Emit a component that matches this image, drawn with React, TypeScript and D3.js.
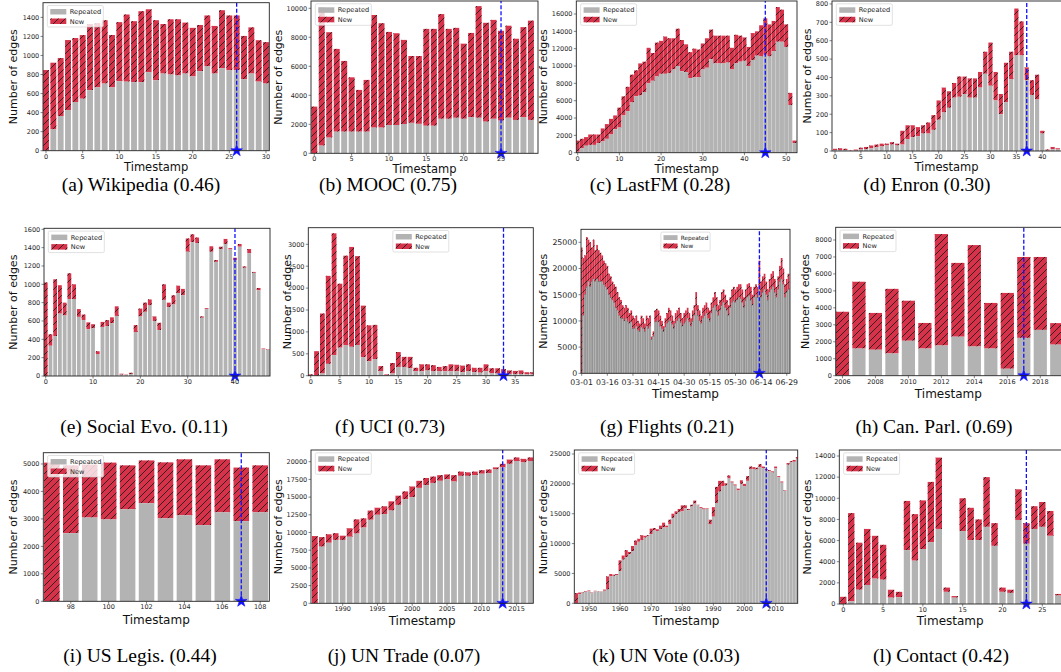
import React from "react";
import * as d3 from "d3";

// ---------------- data ----------------
const wikiTotal = [847, 924, 973, 1162, 1183, 1214, 1330, 1340, 1370, 1215, 1350, 1430, 1360, 1465, 1485, 1370, 1330, 1380, 1380, 1345, 1290, 1320, 1420, 1310, 1475, 1420, 1420, 1205, 1295, 1160, 1140];
const wikiRepeated = [0, 224, 364, 427, 511, 546, 635, 665, 705, 665, 730, 725, 720, 720, 825, 740, 810, 800, 790, 810, 780, 835, 885, 810, 865, 845, 845, 750, 810, 725, 705];

const moocTotal = [3220, 10070, 8350, 7200, 6370, 5240, 4370, 5060, 9540, 8970, 8370, 8280, 7820, 6710, 6710, 8580, 8580, 9600, 8580, 8650, 7560, 8300, 10150, 9000, 9200, 8450, 8800, 7900, 8700, 9150];
const moocRepeated = [0, 530, 1080, 1490, 1490, 1490, 1490, 1490, 1770, 1770, 1950, 1950, 2020, 2100, 2030, 1900, 1900, 2380, 2380, 2450, 2380, 2500, 2450, 2180, 2380, 2250, 2450, 2300, 2500, 2300];

const lastfmTotal = [1400, 1600, 1800, 2100, 2100, 2100, 2800, 3300, 3900, 4300, 5200, 6500, 7600, 9000, 9500, 10300, 10500, 12100, 11500, 12700, 12900, 13400, 13200, 13200, 14300, 13000, 12500, 11600, 12000, 11900, 12600, 13200, 14200, 13500, 13500, 13500, 13500, 12100, 13600, 13500, 13300, 12200, 13800, 14000, 14700, 15500, 14800, 15200, 16800, 16500, 14800, 6900, 1400];
const lastfmRepeated = [100, 500, 800, 900, 900, 1100, 1300, 1600, 2100, 2700, 2900, 4300, 4800, 5800, 6500, 6600, 7000, 8000, 8300, 8800, 9100, 9100, 9200, 9600, 10000, 9400, 9300, 8600, 8700, 8700, 9600, 9800, 10800, 10300, 10300, 10300, 10400, 9600, 10300, 10500, 10600, 10000, 10700, 11200, 11100, 11300, 11100, 11700, 12800, 12800, 12200, 5500, 1100];

const enronTotal = [12, 15, 12, 2, 8, 18, 22, 30, 35, 40, 40, 48, 40, 110, 140, 140, 130, 140, 155, 195, 275, 345, 325, 370, 405, 405, 395, 395, 430, 540, 590, 430, 310, 480, 540, 775, 705, 455, 385, 415, 110, 8, 22, 15];
const enronRepeated = [5, 5, 5, 0, 2, 8, 10, 15, 20, 25, 30, 35, 30, 35, 65, 75, 80, 95, 95, 115, 170, 210, 235, 290, 295, 310, 290, 290, 345, 420, 355, 275, 200, 265, 390, 520, 520, 385, 305, 280, 95, 2, 10, 8];

const socialTotal = [1020, 455, 1055, 990, 800, 1120, 1000, 730, 670, 585, 565, 270, 590, 610, 640, 760, 25, 15, 35, 555, 735, 800, 835, 650, 580, 1000, 800, 880, 985, 950, 1500, 1545, 1510, 650, 740, 1415, 1265, 1410, 1495, 1395, 1290, 1440, 1195, 1385, 1135, 960, 300, 290];
const socialRepeated = [0, 330, 435, 680, 660, 840, 840, 645, 610, 510, 520, 240, 535, 545, 575, 655, 15, 10, 20, 480, 650, 700, 770, 600, 500, 830, 750, 780, 905, 880, 1355, 1460, 1450, 635, 730, 1355, 1245, 1385, 1440, 1380, 1265, 1410, 1180, 1340, 1125, 935, 290, 285];

const uciTotal = [30, 560, 1420, 2280, 3250, 2100, 2740, 2940, 2730, 1600, 1150, 1160, 220, 30, 290, 540, 430, 430, 180, 260, 260, 240, 200, 220, 260, 250, 230, 260, 180, 180, 260, 170, 170, 150, 120, 110, 120, 80, 80];
const uciRepeated = [0, 0, 50, 270, 470, 640, 700, 660, 700, 420, 330, 380, 100, 10, 50, 200, 200, 170, 100, 100, 120, 100, 100, 100, 100, 100, 80, 100, 80, 70, 100, 60, 50, 60, 40, 40, 40, 30, 30];

const flightsTotal = [
  24000, 22000, 22500, 26000, 25500, 25000, 24000, 25500, 23500, 24500, 23500, 23000,
  22500, 21500, 21000, 20500, 19000, 18500, 17500, 17000, 16500, 15500, 14500, 14000, 13000, 12500, 13000, 12500, 11500, 12000, 11000,
  10500, 11000, 10000, 9500, 11000, 10500, 9500, 11000, 10500, 11000,
  7000, 8000, 12000, 12300, 12000, 11000, 10000, 9000, 10500,
  11500, 12500, 12000, 11000, 10000, 11500, 12000, 12500, 11500, 10500, 11500,
  12000, 12500, 11500, 10500, 12000, 13000, 15500, 13000, 12000, 11000, 12500, 13000, 13500, 12500, 12000,
  13500, 14500, 15500, 14500, 13000, 14000, 15500, 16000, 15000, 14000, 13000, 14500, 16000, 16500, 16000,
  16500, 17000, 17000, 16000, 14500, 16000, 17000, 17200, 16500, 15000, 16500, 17000, 16500, 21500,
  17500, 18500, 19000, 17500, 16000, 18000, 19000, 19500, 18000, 16500, 18500, 20500, 22000, 20000, 17000, 18000, 19000,
];
const flightsRepeated = [
  0, 11000, 15000, 16500, 17500, 16500, 17500, 18000, 17500, 18000, 17500, 17500,
  17500, 17000, 16500, 16000, 15000, 14500, 14000, 13500, 12500, 12000, 11000, 10500, 10500, 10000, 10500, 10000, 9500, 9800, 8500,
  8500, 9000, 8200, 8000, 8800, 8500, 8000, 9000, 8500, 9000,
  6500, 7000, 9800, 10000, 9800, 9000, 8500, 8000, 8800,
  9500, 10000, 10000, 9300, 8500, 9500, 10000, 10500, 9800, 9000, 9500,
  10000, 10500, 9800, 9000, 10000, 11000, 12000, 11000, 10000, 9500, 10500, 11000, 11500, 10500, 10000,
  11500, 12500, 13000, 12000, 11000, 12000, 13000, 13500, 12500, 12000, 11000, 12500, 13500, 14000, 13500,
  14000, 14500, 14200, 13500, 12500, 14000, 14500, 14800, 14000, 13000, 14500, 15000, 14500, 16500,
  14500, 15500, 16000, 15000, 14000, 15500, 16000, 16500, 15500, 14500, 16000, 17500, 18000, 17000, 14500, 15500, 16000,
];
const flightsDateLabels = ["03-01", "03-16", "03-31", "04-15", "04-30", "05-15", "05-30", "06-14", "06-29"];

const canParlTotal = [3770, 5540, 3700, 5120, 4420, 3110, 8350, 6650, 7700, 4290, 4880, 7000, 7000, 3100];
const canParlRepeated = [0, 1600, 1530, 1310, 2060, 1600, 1780, 2300, 1720, 1600, 410, 2230, 2700, 1830];

const usLegisTotal = [5050, 4950, 4980, 5050, 4950, 5130, 5060, 5170, 4950, 5170, 4870, 4950];
const usLegisRepeated = [0, 2480, 3050, 2980, 3350, 3570, 3020, 3130, 2770, 3240, 2920, 3240];

const unTradeTotal = [9500, 9350, 9750, 9900, 9550, 10600, 11850, 12000, 13100, 13500, 13700, 14400, 15200, 15800, 16500, 17300, 17700, 17900, 18100, 18200, 18100, 18600, 18500, 18600, 18800, 18900, 19200, 19700, 20300, 20600, 20400, 20600];
const unTradeRepeated = [0, 8000, 8550, 8950, 8950, 9400, 9850, 10700, 11800, 12500, 12600, 13100, 13900, 14700, 15000, 16300, 16700, 17000, 17300, 17500, 17200, 18000, 18000, 18100, 18300, 18400, 18900, 19200, 19700, 20100, 19900, 20100];

const unVoteTotal = [1700, 1800, 1900, 2000, 2150, 1800, 2100, 2000, 2000, 2300, 4500, 4900, 4800, 4900, 7200, 8000, 8900, 8600, 9600, 10500, 10800, 11400, 11300, 11400, 12500, 12600, 12400, 13000, 13500, 13000, 14000, 15000, 15400, 15800, 16400, 16400, 15800, 16500, 17200, 16500, 16100, 15900, 15900, 14000, 16100, 19500, 20500, 20500, 20100, 21400, 20400, 19900, 19200, 20600, 20000, 21300, 22900, 22800, 22700, 23300, 22900, 22500, 22300, 22100, 22900, 21300, 20400, 18900, 23500, 23800, 24000, 24500];
const unVoteRepeated = [0, 1500, 1800, 1900, 2000, 1700, 2000, 1950, 1950, 2100, 2300, 4500, 4600, 4700, 5400, 7300, 7700, 8200, 8700, 9700, 10300, 10600, 11000, 11200, 11600, 12200, 12100, 12400, 12700, 12700, 13200, 14300, 14900, 15300, 15400, 15900, 15600, 16200, 16700, 16400, 15900, 15700, 15800, 13200, 14500, 16800, 18700, 19600, 19700, 20900, 20200, 19700, 18900, 20000, 19600, 20500, 22500, 22500, 22400, 22800, 22600, 22300, 22100, 21900, 22600, 21100, 20200, 18800, 23200, 23600, 23700, 24200];

const contactTotal = [680, 8600, 5800, 7100, 6450, 5600, 1350, 1150, 9750, 8500, 9800, 11550, 13850, 1550, 750, 10000, 9100, 8000, 12000, 7650, 1550, 1350, 10850, 7650, 9250, 9650, 8800, 950];
const contactRepeated = [0, 250, 1350, 1800, 2400, 2300, 600, 650, 5100, 4100, 5200, 5850, 7100, 1150, 600, 6900, 6050, 6050, 7300, 5500, 1150, 1050, 7950, 5700, 7100, 7300, 6450, 800];

// tick values
const wikiXTicks = [0, 5, 10, 15, 20, 25, 30];
const wikiYTicks = [0, 200, 400, 600, 800, 1000, 1200, 1400];
const moocXTicks = [0, 5, 10, 15, 20, 25];
const moocYTicks = [0, 2000, 4000, 6000, 8000, 10000];
const lastfmXTicks = [0, 10, 20, 30, 40, 50];
const lastfmYTicks = [0, 2000, 4000, 6000, 8000, 10000, 12000, 14000, 16000];
const enronXTicks = [0, 5, 10, 15, 20, 25, 30, 35, 40];
const enronYTicks = [0, 100, 200, 300, 400, 500, 600, 700, 800];
const socialXTicks = [0, 10, 20, 30, 40];
const socialYTicks = [0, 200, 400, 600, 800, 1000, 1200, 1400, 1600];
const uciXTicks = [0, 5, 10, 15, 20, 25, 30, 35];
const uciYTicks = [0, 500, 1000, 1500, 2000, 2500, 3000];
const flightsXTicks = [0, 15, 30, 45, 60, 75, 90, 105, 120];
const flightsYTicks = [0, 5000, 10000, 15000, 20000, 25000];
const canParlXTicks = [2006, 2008, 2010, 2012, 2014, 2016, 2018];
const canParlYTicks = [0, 1000, 2000, 3000, 4000, 5000, 6000, 7000, 8000];
const usLegisXTicks = [98, 100, 102, 104, 106, 108];
const usLegisYTicks = [0, 1000, 2000, 3000, 4000, 5000];
const unTradeXTicks = [1990, 1995, 2000, 2005, 2010, 2015];
const unTradeYTicks = [0, 2500, 5000, 7500, 10000, 12500, 15000, 17500, 20000];
const unVoteXTicks = [1950, 1960, 1970, 1980, 1990, 2000, 2010];
const unVoteYTicks = [0, 5000, 10000, 15000, 20000, 25000];
const contactXTicks = [0, 5, 10, 15, 20, 25];
const contactYTicks = [0, 2000, 4000, 6000, 8000, 10000, 12000, 14000];

// ---------------- styles / layout ----------------
const RED = "#d6334a";
const GREY = "#b3b3b3";
const BLUE = "#1010ff";
const SANS = "'DejaVu Sans', sans-serif";
const SERIF = "'Liberation Serif', 'Times New Roman', serif";

interface Panel {
  id: string;
  caption: string;
  capX: number;
  capY: number;
  left: number;
  right: number;
  top: number;
  bottom: number;
  xDomain: [number, number];
  yMax: number;
  xStart: number;
  total: number[];
  rep: number[];
  xTicks: number[];
  xTickLabels?: string[];
  yTicks: number[];
  split: number;
  barW: number;
  edge?: boolean;
  legendCenter?: boolean;
  legendScale?: number;
  ylabX: number;
  xlabY: number | null;
  xlabFs?: number;
  tickFs?: number;
  xTickBase?: number;
}

const panels: Panel[] = [
  { id: "a", caption: "(a) Wikipedia (0.46)", capX: 141, capY: 190.5, left: 43, right: 269.3, top: 2.7, bottom: 150.7, xDomain: [-0.41, 30.45], yMax: 1554, xStart: 0, total: wikiTotal, rep: wikiRepeated, xTicks: wikiXTicks, yTicks: wikiYTicks, split: 26, barW: 0.8, ylabX: 13, xlabY: 171.2, xlabFs: 11.5 },
  { id: "b", caption: "(b) MOOC (0.75)", capX: 388, capY: 190.5, left: 311, right: 538, top: 1, bottom: 153.3, xDomain: [-0.44, 29.95], yMax: 10503, xStart: 0, total: moocTotal, rep: moocRepeated, xTicks: moocXTicks, yTicks: moocYTicks, split: 25, barW: 0.8, ylabX: 278, xlabY: 172.9, xlabFs: 11.5 },
  { id: "c", caption: "(c) LastFM (0.28)", capX: 660, capY: 190.5, left: 576.3, right: 797, top: 1, bottom: 152.7, xDomain: [-0.33, 52.6], yMax: 17500, xStart: 0, total: lastfmTotal, rep: lastfmRepeated, xTicks: lastfmXTicks, yTicks: lastfmYTicks, split: 45, barW: 0.95, ylabX: 543, xlabY: 172.5, xlabFs: 11.5 },
  { id: "d", caption: "(d) Enron (0.30)", capX: 927, capY: 190.5, left: 832, right: 1063, top: 1, bottom: 151, xDomain: [-0.58, 44], yMax: 816, xStart: 0, total: enronTotal, rep: enronRepeated, xTicks: enronXTicks, yTicks: enronYTicks, split: 37, barW: 0.8, ylabX: 807, xlabY: 171.4, xlabFs: 11.5 },
  { id: "e", caption: "(e) Social Evo. (0.11)", capX: 144, capY: 433, left: 44, right: 270, top: 228.3, bottom: 376, xDomain: [-0.36, 47.4], yMax: 1611, xStart: 0, total: socialTotal, rep: socialRepeated, xTicks: socialXTicks, yTicks: socialYTicks, split: 40, barW: 0.8, ylabX: 13, xlabY: null },
  { id: "f", caption: "(f) UCI (0.73)", capX: 390, capY: 433, left: 308.3, right: 533.3, top: 227.7, bottom: 375.7, xDomain: [-0.41, 38.1], yMax: 3379, xStart: 0, total: uciTotal, rep: uciRepeated, xTicks: uciXTicks, yTicks: uciYTicks, split: 33, barW: 0.82, legendCenter: true, ylabX: 287, xlabY: null },
  { id: "g", caption: "(g) Flights (0.21)", capX: 667, capY: 433, left: 581, right: 790, top: 229.3, bottom: 373.3, xDomain: [-0.4, 121.9], yMax: 27480, xStart: 0, total: flightsTotal, rep: flightsRepeated, xTicks: flightsXTicks, xTickLabels: flightsDateLabels, yTicks: flightsYTicks, split: 104, barW: 1, edge: true, legendCenter: true, legendScale: 0.88, ylabX: 543, xlabY: 398, tickFs: 7.8, xTickBase: 11.3 },
  { id: "h", caption: "(h) Can. Parl. (0.69)", capX: 934, capY: 433, left: 835.7, right: 1065, top: 227.3, bottom: 375.7, xDomain: [2005.59, 2019.5], yMax: 8749, xStart: 2006, total: canParlTotal, rep: canParlRepeated, xTicks: canParlXTicks, yTicks: canParlYTicks, split: 2017, barW: 0.8, ylabX: 805, xlabY: 398 },
  { id: "i", caption: "(i) US Legis. (0.44)", capX: 140, capY: 662, left: 43.3, right: 269.3, top: 452.7, bottom: 601.3, xDomain: [96.55, 108.48], yMax: 5411, xStart: 97, total: usLegisTotal, rep: usLegisRepeated, xTicks: usLegisXTicks, yTicks: usLegisYTicks, split: 107, barW: 0.82, ylabX: 13, xlabY: 624 },
  { id: "j", caption: "(j) UN Trade (0.07)", capX: 404, capY: 662, left: 311, right: 533.3, top: 450, bottom: 603.3, xDomain: [1985.45, 2017.4], yMax: 21653, xStart: 1986, total: unTradeTotal, rep: unTradeRepeated, xTicks: unTradeXTicks, yTicks: unTradeYTicks, split: 2013, barW: 0.82, ylabX: 278, xlabY: 625 },
  { id: "k", caption: "(k) UN Vote (0.03)", capX: 666, capY: 662, left: 574.3, right: 797.7, top: 450, bottom: 603.3, xDomain: [1945.3, 2017.1], yMax: 25670, xStart: 1946, total: unVoteTotal, rep: unVoteRepeated, xTicks: unVoteXTicks, yTicks: unVoteYTicks, split: 2007, barW: 0.95, ylabX: 543, xlabY: 625 },
  { id: "l", caption: "(l) Contact (0.42)", capX: 941, capY: 662, left: 839.3, right: 1062.2, top: 450, bottom: 604, xDomain: [-0.5, 27.5], yMax: 14568, xStart: 0, total: contactTotal, rep: contactRepeated, xTicks: contactXTicks, yTicks: contactYTicks, split: 23, barW: 0.8, ylabX: 807, xlabY: 625 },
];

const starPath = d3.symbol().type(d3.symbolStar).size(42)() || "";

function PanelView({ p }: { p: Panel }) {
  const x = d3.scaleLinear().domain(p.xDomain).range([p.left, p.right]);
  const y = d3.scaleLinear().domain([0, p.yMax]).range([p.bottom, p.top]);
  const bw = x(p.xStart + p.barW) - x(p.xStart);
  const tfs = p.tickFs ?? 6.5;
  const xtb = p.xTickBase ?? 3.1 + tfs * 0.76;
  const clipId = `clip-${p.id}`;
  const ls = p.legendScale ?? 1;
  const lw = 56 * ls;
  const lh = 21.5 * ls;
  const lx = p.legendCenter ? (p.left + p.right) / 2 - lw / 2 : p.left + 4.3;
  const ly = p.top + 2.8;
  const midY = (p.top + p.bottom) / 2;
  const fmt = d3.format("d");

  return (
    <g>
      <clipPath id={clipId}>
        <rect x={p.left} y={p.top} width={p.right - p.left} height={p.bottom - p.top} />
      </clipPath>
      <g clipPath={`url(#${clipId})`}>
        {p.total.map((t, i) => {
          const cx = x(p.xStart + i);
          const r = p.rep[i];
          return (
            <g key={i}>
              <rect x={cx - bw / 2} y={y(t)} width={bw} height={Math.max(0, y(r) - y(t))} fill={RED} />
              <rect x={cx - bw / 2} y={y(t)} width={bw} height={Math.max(0, y(r) - y(t))} fill="url(#hatch)" />
              <rect
                x={cx - bw / 2}
                y={y(r)}
                width={bw}
                height={Math.max(0, y(0) - y(r))}
                fill={GREY}
                stroke={p.edge ? "#6e6e6e" : "none"}
                strokeWidth={p.edge ? 0.35 : 0}
              />
            </g>
          );
        })}
        <line x1={x(p.split)} x2={x(p.split)} y1={p.bottom} y2={p.top} stroke={BLUE} strokeWidth={1.3} strokeDasharray="4 2" />
      </g>
      <path d={starPath} transform={`translate(${x(p.split)},${y(0)})`} fill={BLUE} stroke={BLUE} strokeWidth={0.6} />
      <rect x={p.left} y={p.top} width={p.right - p.left} height={p.bottom - p.top} fill="none" stroke="#222" strokeWidth={0.9} />

      {/* y ticks */}
      {p.yTicks.map((v) => (
        <g key={`y${v}`}>
          <line x1={p.left - 2.5} x2={p.left} y1={y(v)} y2={y(v)} stroke="#333" strokeWidth={0.6} />
          <text x={p.left - 3.8} y={y(v)} dy="0.36em" textAnchor="end" fontSize={tfs} fontFamily={SANS} fill="#262626">
            {fmt(v)}
          </text>
        </g>
      ))}
      {/* x ticks */}
      {p.xTicks.map((v, i) => (
        <g key={`x${v}`}>
          <line x1={x(v)} x2={x(v)} y1={p.bottom} y2={p.bottom + 2.5} stroke="#333" strokeWidth={0.6} />
          <text x={x(v)} y={p.bottom + xtb} textAnchor="middle" fontSize={tfs} fontFamily={SANS} fill="#262626">
            {p.xTickLabels ? p.xTickLabels[i] : fmt(v)}
          </text>
        </g>
      ))}

      {/* legend */}
      <g>
        <rect x={lx} y={ly} width={lw} height={lh} rx={1.5} fill="white" fillOpacity={0.8} stroke="#cccccc" strokeWidth={0.6} />
        <rect x={lx + 3 * ls} y={ly + 3.5 * ls} width={16 * ls} height={5.5 * ls} fill={GREY} />
        <rect x={lx + 3 * ls} y={ly + 13 * ls} width={16 * ls} height={5.5 * ls} fill={RED} />
        <rect x={lx + 3 * ls} y={ly + 13 * ls} width={16 * ls} height={5.5 * ls} fill="url(#hatch)" />
        <text x={lx + 22.5 * ls} y={ly + 6.25 * ls} dy="0.36em" fontSize={6.6 * ls} fontFamily={SANS} fill="#222">
          Repeated
        </text>
        <text x={lx + 22.5 * ls} y={ly + 15.75 * ls} dy="0.36em" fontSize={6.6 * ls} fontFamily={SANS} fill="#222">
          New
        </text>
      </g>

      {/* axis labels */}
      <text
        x={p.ylabX}
        y={midY}
        transform={`rotate(-90 ${p.ylabX} ${midY})`}
        textAnchor="middle"
        dy="0.36em"
        fontSize={11}
        fontFamily={SANS}
        fill="#111"
      >
        Number of edges
      </text>
      {p.xlabY !== null && (
        <text x={(p.left + Math.min(p.right, 1061)) / 2} y={p.xlabY} textAnchor="middle" fontSize={p.xlabFs ?? 12} fontFamily={SANS} fill="#111">
          Timestamp
        </text>
      )}
      <text x={p.capX} y={p.capY} textAnchor="middle" fontSize={19.5} fontFamily={SERIF} fill="#000">
        {p.caption}
      </text>
    </g>
  );
}

export default function App() {
  return (
    <svg
      width={1061}
      height={672}
      viewBox="0 0 1061 672"
      style={{ position: "absolute", left: 0, top: 0, background: "#fff" }}
    >
      <defs>
        <pattern id="hatch" patternUnits="userSpaceOnUse" width={7} height={7}>
          <path d="M-1,1 l2,-2 M0,7 l7,-7 M6,8 l2,-2" stroke="#1a1a1a" strokeWidth={0.85} />
        </pattern>
      </defs>
      <rect x={0} y={0} width={1061} height={672} fill="#fff" />
      {panels.map((p) => (
        <PanelView key={p.id} p={p} />
      ))}
    </svg>
  );
}
